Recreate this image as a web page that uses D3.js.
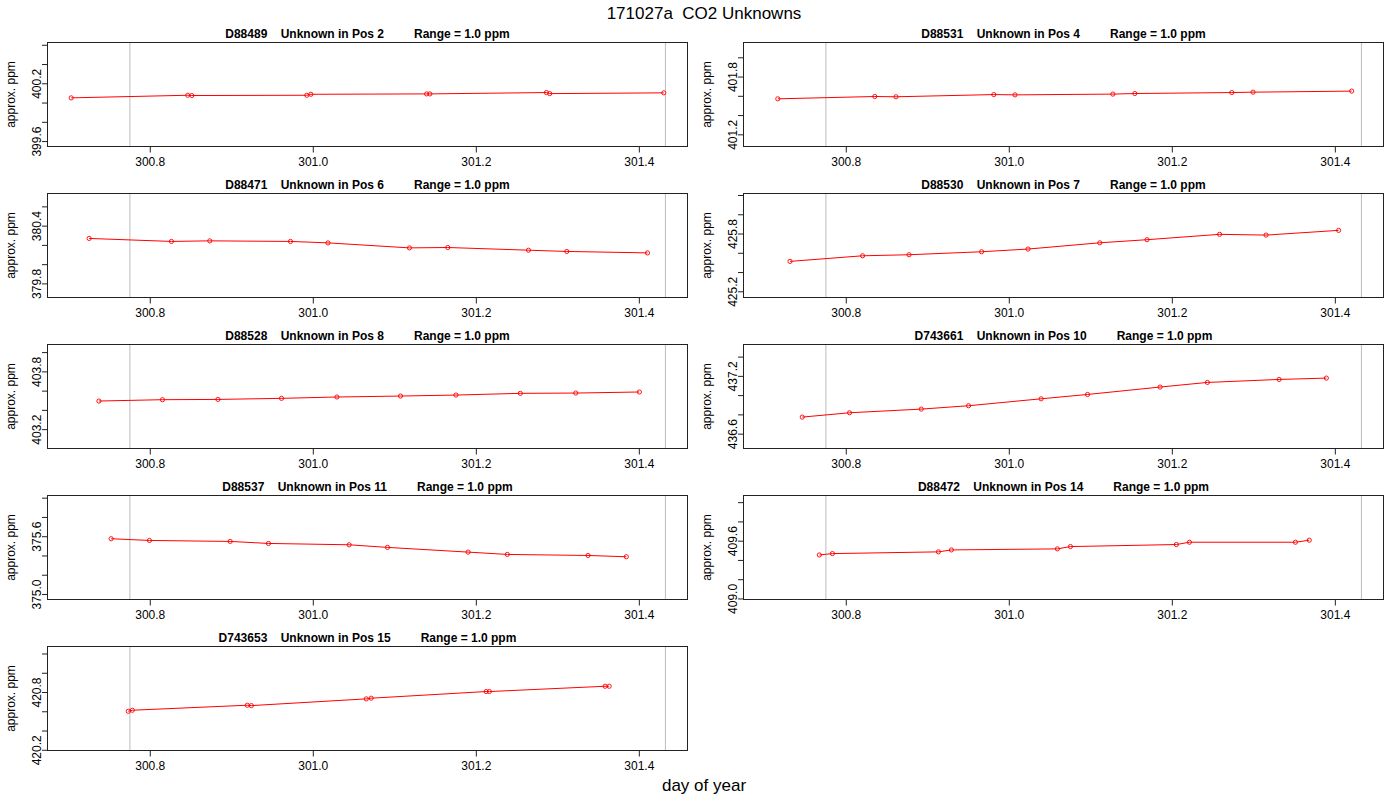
<!DOCTYPE html>
<html>
<head>
<meta charset="utf-8">
<script src="https://cdn.jsdelivr.net/npm/d3@7"></script>
<style>
  body { margin: 0; background: #fff; }
  svg { display: block; font-family: "Liberation Sans", Arial, Helvetica, sans-serif; }
  text { white-space: pre; }
</style>
</head>
<body>
<svg id="chart" width="1400" height="800"></svg>
<script>
// run info
const runName = "171027a  CO2 Unknowns";
const xLabel = "day of year";
const yLabel = "approx. ppm";
const rangePpm = 1.0;

const sampleIds = ["D88489", "D88531", "D88471", "D88530", "D88528", "D743661", "D88537", "D88472", "D743653"];
const positions = [2, 4, 6, 7, 8, 10, 11, 14, 15];

// day of year for each measurement, one list per panel
const days = [
  [300.703, 300.846, 300.851, 300.992, 300.997, 301.139, 301.143, 301.286, 301.290, 301.430],
  [300.716, 300.835, 300.861, 300.981, 301.007, 301.127, 301.154, 301.273, 301.299, 301.420],
  [300.725, 300.826, 300.873, 300.972, 301.018, 301.118, 301.165, 301.264, 301.311, 301.410],
  [300.731, 300.820, 300.877, 300.966, 301.023, 301.111, 301.169, 301.258, 301.315, 301.404],
  [300.737, 300.815, 300.883, 300.961, 301.029, 301.107, 301.175, 301.254, 301.322, 301.400],
  [300.746, 300.804, 300.892, 300.950, 301.039, 301.096, 301.185, 301.243, 301.331, 301.389],
  [300.752, 300.799, 300.898, 300.945, 301.044, 301.091, 301.190, 301.238, 301.337, 301.384],
  [300.767, 300.783, 300.913, 300.929, 301.059, 301.075, 301.205, 301.221, 301.351, 301.368],
  [300.773, 300.778, 300.919, 300.924, 301.065, 301.071, 301.212, 301.216, 301.358, 301.363]
];

// approx. ppm values, same order
const ppm = [
  [400.054, 400.081, 400.078, 400.081, 400.091, 400.095, 400.095, 400.109, 400.098, 400.106],
  [401.574, 401.598, 401.595, 401.618, 401.615, 401.623, 401.629, 401.639, 401.643, 401.654],
  [380.272, 380.241, 380.247, 380.241, 380.226, 380.174, 380.178, 380.150, 380.137, 380.122],
  [425.516, 425.574, 425.585, 425.616, 425.644, 425.709, 425.741, 425.797, 425.789, 425.838],
  [403.497, 403.511, 403.514, 403.525, 403.539, 403.549, 403.559, 403.577, 403.580, 403.591],
  [436.777, 436.822, 436.860, 436.895, 436.967, 437.012, 437.089, 437.137, 437.168, 437.182],
  [375.579, 375.561, 375.551, 375.530, 375.516, 375.489, 375.440, 375.416, 375.405, 375.392],
  [409.457, 409.471, 409.489, 409.509, 409.520, 409.544, 409.565, 409.589, 409.589, 409.610],
  [420.605, 420.616, 420.668, 420.664, 420.734, 420.741, 420.810, 420.810, 420.865, 420.865]
];

// start / end of the run (grey markers)
const markerDays = [300.775, 301.432];
const xTicks = [300.8, 301.0, 301.2, 301.4];

const svg = d3.select("#chart");
const colLeft = [47.5, 743.5];
const boxW = 640, boxH = 104;
const rowTop0 = 42.5, rowStep = 151;
const fmt = d3.format(".1f");

// R style 4% padding
function pad(lo, hi) {
  let d = (hi - lo) * 0.04;
  return [lo - d, hi + d];
}

const allDays = d3.merge(days);
const x = d3.scaleLinear().domain(pad(d3.min(allDays), d3.max(allDays))).range([0, boxW]);

svg.append("text")
  .attr("x", 704).attr("y", 19)
  .attr("text-anchor", "middle")
  .attr("font-size", 17)
  .text(runName);

svg.append("text")
  .attr("x", 704).attr("y", 791)
  .attr("text-anchor", "middle")
  .attr("font-size", 17)
  .text(xLabel);

sampleIds.forEach(function(id, i) {
  let col = i % 2, row = Math.floor(i / 2);
  let g = svg.append("g")
    .attr("transform", "translate(" + colLeft[col] + "," + (rowTop0 + row * rowStep) + ")");

  let pts = days[i].map(function(d, j) { return { d: d, v: ppm[i][j] }; });
  let mid = d3.mean(ppm[i]);
  let usr = pad(mid - rangePpm / 2, mid + rangePpm / 2);
  let y = d3.scaleLinear().domain(usr).range([boxH, 0]);

  // ticks every 0.2 inside the plot region
  let yTicks = [];
  for (let t = Math.ceil(usr[0] / 0.2 - 1e-6) * 0.2; t <= usr[1] + 1e-6; t += 0.2) {
    yTicks.push(Math.round(t * 10) / 10);
  }

  g.selectAll(".marker")
    .data(markerDays)
    .enter().append("line")
    .attr("x1", d => x(d)).attr("x2", d => x(d))
    .attr("y1", 0).attr("y2", boxH)
    .attr("stroke", "#bebebe").attr("stroke-width", 1);

  g.append("path")
    .datum(pts)
    .attr("fill", "none")
    .attr("stroke", "#ff0000")
    .attr("stroke-width", 1)
    .attr("d", d3.line().x(d => x(d.d)).y(d => y(d.v)));

  g.selectAll(".pt")
    .data(pts)
    .enter().append("circle")
    .attr("cx", d => x(d.d)).attr("cy", d => y(d.v))
    .attr("r", 2.1)
    .attr("fill", "none")
    .attr("stroke", "#ff0000")
    .attr("stroke-width", 0.9);

  g.append("rect")
    .attr("x", 0).attr("y", 0)
    .attr("width", boxW).attr("height", boxH)
    .attr("fill", "none")
    .attr("stroke", "#222").attr("stroke-width", 1);

  // x axis
  let xa = g.append("g").attr("transform", "translate(0," + boxH + ")");
  xa.append("line")
    .attr("x1", x(xTicks[0])).attr("x2", x(xTicks[xTicks.length - 1]))
    .attr("stroke", "#222");
  xa.selectAll("line.tk").data(xTicks).enter().append("line")
    .attr("class", "tk")
    .attr("x1", d => x(d)).attr("x2", d => x(d))
    .attr("y1", 0).attr("y2", 6)
    .attr("stroke", "#222");
  xa.selectAll("text").data(xTicks).enter().append("text")
    .attr("x", d => x(d)).attr("y", 19)
    .attr("text-anchor", "middle")
    .attr("font-size", 12)
    .text(d => fmt(d));

  // y axis, R drops labels that would overlap: keep every third
  let ya = g.append("g");
  ya.append("line")
    .attr("y1", y(yTicks[0])).attr("y2", y(yTicks[yTicks.length - 1]))
    .attr("stroke", "#222");
  ya.selectAll("line.tk").data(yTicks).enter().append("line")
    .attr("class", "tk")
    .attr("x1", 0).attr("x2", -5.5)
    .attr("y1", d => y(d)).attr("y2", d => y(d))
    .attr("stroke", "#222");
  ya.selectAll("text").data(yTicks.filter((d, k) => k % 3 === 0)).enter().append("text")
    .attr("transform", d => "translate(-7," + y(d) + ") rotate(-90)")
    .attr("text-anchor", "middle")
    .attr("font-size", 12)
    .text(d => fmt(d));

  g.append("text")
    .attr("transform", "translate(-33," + (boxH / 2) + ") rotate(-90)")
    .attr("text-anchor", "middle")
    .attr("font-size", 12)
    .text(yLabel);

  g.append("text")
    .attr("x", boxW / 2).attr("y", -4.5)
    .attr("text-anchor", "middle")
    .attr("font-size", 12)
    .attr("font-weight", "bold")
    .text(id + "    Unknown in Pos " + positions[i] + "         Range = " + fmt(rangePpm) + " ppm");
});
</script>
</body>
</html>
